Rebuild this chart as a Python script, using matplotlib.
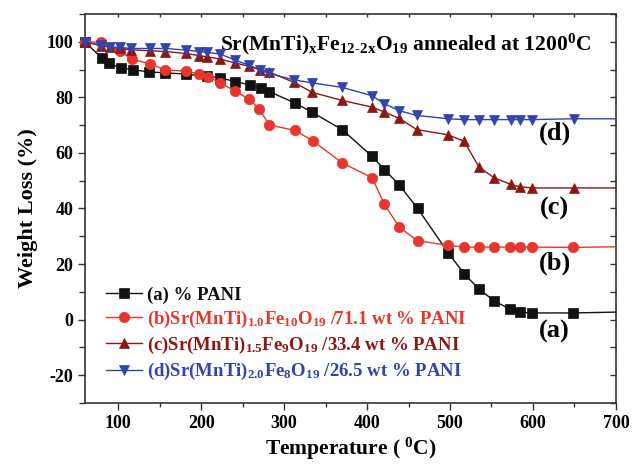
import matplotlib
matplotlib.use('Agg')
import matplotlib.pyplot as plt
from matplotlib.ticker import MultipleLocator

plt.rcParams['font.family'] = 'Liberation Serif'
plt.rcParams['font.weight'] = 'bold'
plt.rcParams['mathtext.fontset'] = 'custom'
plt.rcParams['mathtext.rm'] = 'Liberation Serif:bold'
plt.rcParams['mathtext.it'] = 'Liberation Serif:italic:bold'
plt.rcParams['mathtext.bf'] = 'Liberation Serif:bold'
plt.rcParams['axes.unicode_minus'] = False

# (a) PANI
temp_a = [60, 80, 89, 103, 118, 137, 157, 182, 207, 223, 241, 259, 272, 282, 313, 334,
          370, 406, 421, 439, 461, 498, 517, 535, 553, 572, 584, 599, 648, 700]
loss_a = [100, 94.2, 92.2, 90.6, 89.9, 89.2, 88.8, 88.4, 87.6, 87.0, 85.7, 84.5, 83.4, 82.1,
          78.0, 74.6, 68.4, 58.8, 54.0, 48.4, 40.0, 24.0, 16.5, 11.0, 6.8, 3.8, 2.6, 2.4, 2.4, 2.7]
# (b) x=1.0
temp_b = [60, 79, 102, 117, 138, 157, 182, 198, 208, 223, 241, 258, 270, 282, 313, 335,
          370, 406, 421, 439, 461, 498, 517, 535, 553, 572, 584, 599, 648, 700]
loss_b = [100, 99.8, 96.6, 93.7, 92.1, 89.9, 89.4, 88.5, 87.5, 85.2, 82.3, 79.3, 75.9, 70.1,
          68.1, 64.3, 56.4, 51.1, 41.5, 33.2, 28.4, 26.7, 26.1, 26.1, 26.1, 26.1, 26.1, 26.1, 26.0, 26.2]
# (c) x=1.5 and (d) x=2.0
temp_cd = [60, 79, 90, 102, 115, 138, 157, 182, 198, 207, 223, 241, 258, 271, 282, 312,
           334, 370, 406, 421, 439, 460, 498, 517, 535, 553, 573, 584, 599, 649, 700]
loss_c = [100, 98.6, 98.0, 97.6, 97.1, 96.8, 96.5, 95.8, 95.0, 94.6, 93.8, 92.4, 91.2, 90.0,
          89.1, 85.4, 81.8, 78.9, 76.5, 74.7, 72.4, 68.4, 66.5, 64.2, 54.9, 51.1, 48.7, 47.8,
          47.4, 47.4, 47.4]
loss_d = [100, 98.8, 98.2, 98.0, 97.6, 97.6, 97.6, 97.0, 96.5, 96.2, 95.6, 93.4, 91.6, 89.8,
          88.6, 86.3, 85.2, 83.6, 80.6, 77.7, 75.2, 73.5, 72.3, 72.0, 72.0, 72.0, 72.0, 72.0,
          72.0, 72.3, 72.3]

labels = ['(a) % PANI',
          r'(b)Sr(MnTi)$_{\mathrm{1.0}}$Fe$_{\mathrm{10}}$O$_{\mathrm{19}}$ /71.1 wt % PANI',
          r'(c)Sr(MnTi)$_{\mathrm{1.5}}$Fe$_{\mathrm{9}}$O$_{\mathrm{19}}$ /33.4 wt % PANI',
          r'(d)Sr(MnTi)$_{\mathrm{2.0}}$Fe$_{\mathrm{8}}$O$_{\mathrm{19}}$ /26.5 wt % PANI']
colors = ['#111111', '#e8362c', '#8c1612', '#3243ad']
markers = ['s', 'o', '^', 'v']
msizes = [6.5, 7.5, 7.5, 7.5]

fig = plt.figure(figsize=(6.32, 4.68), dpi=100)
ax = fig.add_axes([0.1345, 0.139, 0.840, 0.831])

series = [(temp_a, loss_a), (temp_b, loss_b), (temp_cd, loss_c), (temp_cd, loss_d)]
for i in range(4):
    xs, ys = series[i]
    ax.plot(xs, ys, color=colors[i], lw=1, marker=markers[i], ms=msizes[i],
            mec=colors[i], mew=0.5, markevery=slice(0, len(xs) - 1),
            label=labels[i], clip_on=False, zorder=3 + i)

ax.set_xlim(60, 700)
ax.set_ylim(-30, 110)
ax.xaxis.set_major_locator(MultipleLocator(100))
ax.xaxis.set_minor_locator(MultipleLocator(50))
ax.yaxis.set_major_locator(MultipleLocator(20))
ax.yaxis.set_minor_locator(MultipleLocator(10))
ax.set_xticks([100, 200, 300, 400, 500, 600, 700])
ax.tick_params(axis='both', which='both', labelsize=13, width=1, color='#333333')
ax.tick_params(axis='x', which='major', direction='out', length=5, top=True)
ax.tick_params(axis='x', which='minor', direction='out', length=3, top=True)
ax.tick_params(axis='y', which='major', direction='out', length=5, right=True)
ax.tick_params(axis='y', which='minor', direction='out', length=4, right=True)
for spine in ax.spines.values():
    spine.set_linewidth(1.2)
    spine.set_color('#333333')
# right/top ticks point inward
for t in ax.yaxis.get_major_ticks() + ax.yaxis.get_minor_ticks():
    t.tick2line.set_marker(matplotlib.lines.TICKLEFT)
    t.tick2line.set_markersize(4)
for t in ax.xaxis.get_major_ticks() + ax.xaxis.get_minor_ticks():
    t.tick2line.set_marker(matplotlib.lines.TICKDOWN)
    t.tick2line.set_markersize(2)

ax.set_xlabel(r'Temperature ( $^{\mathrm{0}}$C)', fontsize=15.5, fontweight='bold', labelpad=3)
ax.set_ylabel('Weight Loss (%)', fontsize=16, fontweight='bold', labelpad=6)

ax.text(0.603, 0.955, r'Sr(MnTi)$_{\mathrm{x}}$Fe$_{\mathrm{12\text{-}2x}}$O$_{\mathrm{19}}$ annealed at 1200$^{\mathrm{0}}$C',
        transform=ax.transAxes, ha='center', va='top', fontsize=15.5, fontweight='bold')

for lab, yv in zip(['(d)', '(c)', '(b)', '(a)'], [67, 40, 20.4, -4.3]):
    ax.text(626, yv, lab, ha='center', va='center', fontsize=19, fontweight='bold')

leg = ax.legend(loc='upper left', bbox_to_anchor=(0.04, 0.30), frameon=False, fontsize=13.5,
                handlelength=1.9, handletextpad=0.3, labelspacing=0.27, borderpad=0,
                borderaxespad=0)
for txt, c in zip(leg.get_texts(), colors):
    txt.set_color(c)

fig.savefig('out.png', dpi=100)
